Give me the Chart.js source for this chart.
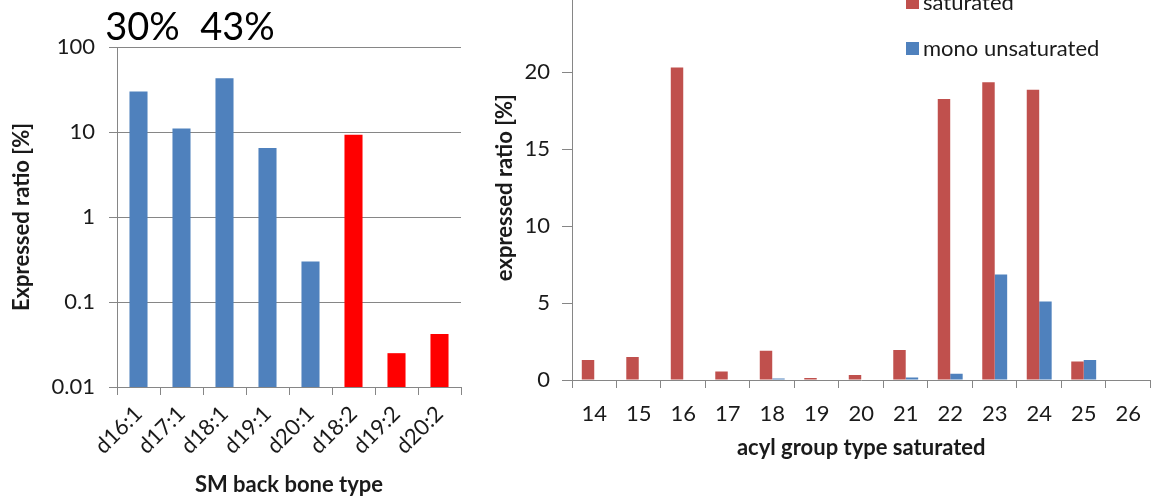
<!DOCTYPE html>
<html lang="en">
<head>
<meta charset="UTF-8">
<script src="https://cdn.jsdelivr.net/npm/chart.js@4.4.1/dist/chart.umd.min.js"></script>
<title>SM back bone and acyl group ratios</title>
<style>
  html, body { margin: 0; padding: 0; background: #fff; overflow: hidden; }
  body { width: 1154px; height: 499px; position: relative; }
  #wrapLeft { position: absolute; left: 0; top: 0; width: 480px; height: 499px; }
  #wrapRight { position: absolute; left: 480px; top: -30px; width: 674px; height: 529px; }
</style>
</head>
<body>
<div id="wrapLeft"><canvas id="backbone"></canvas></div>
<div id="wrapRight"><canvas id="acyl"></canvas></div>
<script>
// left panel: SM back bone types (log scale)
const backboneLabels = ['d16:1', 'd17:1', 'd18:1', 'd19:1', 'd20:1', 'd18:2', 'd19:2', 'd20:2'];
const backboneValues = [30, 11, 43, 6.5, 0.3, 9.3, 0.025, 0.042];
const backboneTicks = [0.01, 0.1, 1, 10, 100];
const annotatedBars = [0, 2];

// right panel: acyl group chain lengths
const acylLabels = ['14', '15', '16', '17', '18', '19', '20', '21', '22', '23', '24', '25', '26'];
const saturatedValues = [1.3, 1.5, 20.3, 0.55, 1.9, 0.13, 0.32, 1.95, 18.25, 19.35, 18.85, 1.2, 0];
const monoValues = [0, 0, 0, 0, 0.1, 0, 0, 0.17, 0.4, 6.85, 5.1, 1.3, 0];
const acylTicks = [0, 5, 10, 15, 20];

const FONT = 'Lato, "Open Sans", sans-serif';
const TEXT = '#1a1a1a';
const GRID = '#868686';
Chart.defaults.font.family = FONT;
Chart.defaults.color = TEXT;
Chart.defaults.animation = false;

// big percentage labels above selected bars
const percentLabels = {
  id: 'percentLabels',
  afterDraw(chart) {
    const ctx = chart.ctx;
    const bars = chart.getDatasetMeta(0).data;
    const shift = [4, 13];
    ctx.save();
    ctx.font = '38px ' + FONT;
    ctx.fillStyle = '#000';
    ctx.textAlign = 'center';
    ctx.textBaseline = 'middle';
    annotatedBars.forEach((i, k) => {
      const v = chart.data.datasets[0].data[i];
      ctx.fillText(Math.round(v) + '%', bars[i].x + shift[k], 28);
    });
    ctx.restore();
  }
};

// stacked legend in the upper right of the chart area
const sideLegend = {
  id: 'sideLegend',
  afterDraw(chart) {
    const ctx = chart.ctx;
    ctx.save();
    ctx.font = '22px ' + FONT;
    ctx.textBaseline = 'middle';
    chart.data.datasets.forEach((ds, i) => {
      const y = 33 + i * 46;
      ctx.fillStyle = ds.backgroundColor;
      ctx.fillRect(426, y - 7, 13, 13);
      ctx.fillStyle = TEXT;
      ctx.fillText(ds.label, 443, y);
    });
    ctx.restore();
  }
};

new Chart(document.getElementById('backbone'), {
  type: 'bar',
  data: {
    labels: backboneLabels,
    datasets: [{
      data: backboneValues,
      backgroundColor: backboneLabels.map(l => l.endsWith(':2') ? '#FF0000' : '#4F81BD'),
      barPercentage: 0.42,
      categoryPercentage: 1
    }]
  },
  options: {
    responsive: true,
    maintainAspectRatio: false,
    layout: { padding: { top: 47, right: 19, bottom: 0, left: 0 } },
    plugins: { legend: { display: false }, tooltip: { enabled: false } },
    scales: {
      x: {
        grid: { drawOnChartArea: false, color: GRID, tickLength: 8, offset: true },
        border: { color: GRID },
        ticks: { font: { size: 22 }, color: TEXT, maxRotation: 45, minRotation: 45, padding: 6 },
        title: { display: true, text: 'SM back bone type', font: { size: 22, weight: 'bold' }, color: TEXT, padding: { bottom: 1, top: 0 } },
        afterFit(scale) { scale.height = 112; }
      },
      y: {
        type: 'logarithmic',
        min: 0.01,
        max: 100,
        grid: { color: GRID, tickLength: 8 },
        border: { color: GRID },
        ticks: { font: { size: 22 }, color: TEXT, padding: 14, callback: v => String(v) },
        afterBuildTicks(scale) { scale.ticks = backboneTicks.map(v => ({ value: v })); },
        title: { display: true, text: 'Expressed ratio [%]', font: { size: 22, weight: 'bold' }, color: TEXT, padding: { top: 9, bottom: 0 } },
        afterFit(scale) { scale.width = 117; }
      }
    }
  },
  plugins: [percentLabels]
});

new Chart(document.getElementById('acyl'), {
  type: 'bar',
  data: {
    labels: acylLabels,
    datasets: [
      { label: 'saturated', data: saturatedValues, backgroundColor: '#C0504D' },
      { label: 'mono unsaturated', data: monoValues, backgroundColor: '#4F81BD' }
    ]
  },
  options: {
    responsive: true,
    maintainAspectRatio: false,
    datasets: { bar: { barPercentage: 1, categoryPercentage: 0.56 } },
    layout: { padding: { top: 23.5, right: 1, bottom: 0, left: 0 } },
    plugins: { legend: { display: false }, tooltip: { enabled: false } },
    scales: {
      x: {
        grid: { drawOnChartArea: false, color: GRID, tickLength: 8, offset: true },
        border: { color: GRID },
        ticks: { font: { size: 22 }, color: TEXT, maxRotation: 0, padding: 13 },
        title: { display: true, text: 'acyl group type saturated', font: { size: 22, weight: 'bold' }, color: TEXT, padding: { bottom: 38, top: 0 } },
        afterFit(scale) { scale.height = 119; }
      },
      y: {
        min: 0,
        max: 25,
        grid: { drawOnChartArea: false, color: GRID, tickLength: 10 },
        border: { color: GRID },
        ticks: { font: { size: 22 }, color: TEXT, padding: 12 },
        afterBuildTicks(scale) { scale.ticks = acylTicks.map(v => ({ value: v })); },
        title: { display: true, text: 'expressed ratio [%]', font: { size: 22, weight: 'bold' }, color: TEXT, padding: { top: 12, bottom: 0 } },
        afterFit(scale) { scale.width = 92; }
      }
    }
  },
  plugins: [sideLegend]
});
</script>
</body>
</html>
